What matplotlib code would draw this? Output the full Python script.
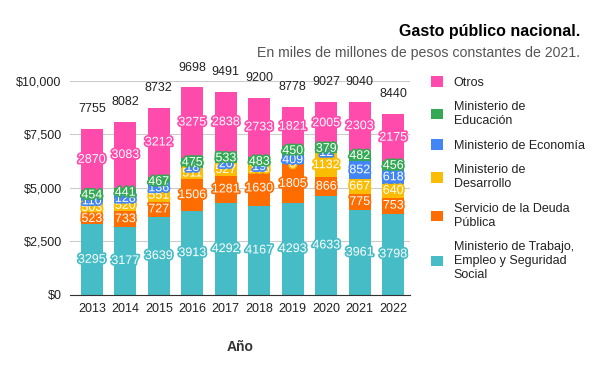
import matplotlib.pyplot as plt
import matplotlib.patheffects as pe
import numpy as np

plt.rcParams['font.family'] = ['Liberation Sans', 'DejaVu Sans']

years = ['2013', '2014', '2015', '2016', '2017', '2018', '2019', '2020', '2021', '2022']
trabajo = [3295, 3177, 3639, 3913, 4292, 4167, 4293, 4633, 3961, 3798]
deuda = [523, 733, 727, 1506, 1281, 1630, 1805, 866, 775, 753]
desarrollo = [503, 520, 551, 511, 527, 168, 0, 1132, 667, 640]
economia = [110, 128, 136, 18, 20, 19, 409, 12, 852, 618]
educacion = [454, 441, 467, 475, 533, 483, 450, 379, 482, 456]
otros = [2870, 3083, 3212, 3275, 2838, 2733, 1821, 2005, 2303, 2175]

series = [
    ('Ministerio de Trabajo,\nEmpleo y Seguridad\nSocial', trabajo, '#46bdc6'),
    ('Servicio de la Deuda\nPública', deuda, '#ff6d01'),
    ('Ministerio de\nDesarrollo', desarrollo, '#fbbc04'),
    ('Ministerio de Economía', economia, '#4285f4'),
    ('Ministerio de\nEducación', educacion, '#34a853'),
    ('Otros', otros, '#ff4bac'),
]

fig = plt.figure(figsize=(6, 3.71), dpi=100)
ax = fig.add_axes([0.1167, 0.2049, 0.5666, 0.5768])

x = np.arange(len(years))
bottom = np.zeros(len(years))
handles = []
for name, vals, color in series:
    vals = np.array(vals, dtype=float)
    b = ax.bar(x, vals, 0.66, bottom=bottom, color=color, label=name, zorder=2)
    handles.append(b)
    for xi, v, bt in zip(x, vals, bottom):
        ax.text(xi, bt + v / 2, str(int(v)), ha='center', va='center', fontsize=9,
                color='white', zorder=3,
                path_effects=[pe.withStroke(linewidth=2.5, foreground=color)])
    bottom += vals

for xi, t in zip(x, bottom):
    ax.annotate(str(int(t)), (xi, t), xytext=(0, 10), textcoords='offset points',
                ha='center', va='bottom', fontsize=9, color='#222222',
                annotation_clip=False)

ax.set_xlim(-0.65, 9.5)
ax.set_ylim(0, 10000)
ax.set_yticks([0, 2500, 5000, 7500, 10000])
ax.set_yticklabels(['$0', '$2,500', '$5,000', '$7,500', '$10,000'])
ax.set_xticks(x)
ax.set_xticklabels(years)
ax.tick_params(axis='both', length=0, labelsize=9, colors='#222222', pad=6)
ax.grid(axis='y', color='#cccccc', linewidth=0.8, zorder=0)
for s in ['top', 'right', 'left']:
    ax.spines[s].set_visible(False)
ax.spines['bottom'].set_color('#333333')
ax.set_xlabel('Año', fontsize=10, fontweight='bold', color='#333333', labelpad=18)

leg = fig.legend(handles[::-1], [s[0] for s in series][::-1], loc='upper left',
                 bbox_to_anchor=(0.7, 0.825), frameon=False, fontsize=9,
                 handlelength=0.9, handleheight=0.9, labelspacing=1.0,
                 handletextpad=0.9)
for t in leg.get_texts():
    t.set_color('#222222')

fig.text(0.967, 0.915, 'Gasto público nacional.', ha='right', va='center',
         fontsize=11.5, fontweight='bold', color='#000000')
fig.text(0.967, 0.857, 'En miles de millones de pesos constantes de 2021.', ha='right',
         va='center', fontsize=10.2, color='#555555')

fig.savefig('out.png', dpi=100)
